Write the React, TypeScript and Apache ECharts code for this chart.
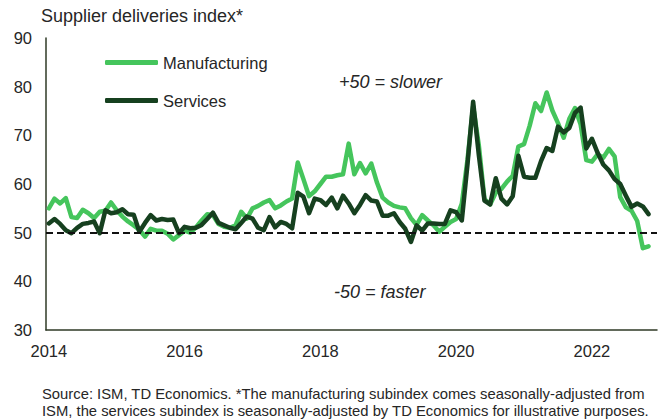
import React, { useEffect, useRef } from "react";
import * as echarts from "echarts";

const startYear = 2014;
const endYear = 2022;
const tickLabels = ["2014", "2016", "2018", "2020", "2022"];
const yTicks = { min: 30, max: 90, step: 10 };

// Monthly, Jan 2014 onward
const manufacturing = [
  55.0, 57.0, 56.0, 57.1, 53.2, 53.0, 54.7, 54.0, 53.0, 54.3, 54.5, 56.2,
  54.6, 53.3, 52.3, 51.5, 50.6, 49.2, 50.8, 50.4, 50.4, 49.8, 48.6, 49.5,
  50.4, 50.0, 51.1, 52.5, 53.8, 53.6, 51.8, 51.2, 51.0, 51.5, 54.3, 52.9,
  55.0, 55.5, 56.2, 56.7, 55.0, 55.6, 56.4, 57.0, 64.4, 61.0, 57.5, 58.5,
  60.0, 61.5, 61.5, 61.8, 62.0, 68.3, 62.0, 64.3, 62.2, 64.2, 60.3, 57.2,
  56.2, 55.5, 55.2, 55.0, 53.0, 51.6, 53.6, 52.5, 51.5, 50.2, 51.2, 52.2,
  52.8, 56.0, 65.0, 76.0, 68.0, 56.9, 55.8, 58.2, 59.0, 60.5, 61.7, 67.7,
  68.2, 72.0, 76.6, 75.0, 78.8, 75.1, 72.5, 69.5, 73.4, 75.6, 72.2, 64.9,
  64.6, 66.1, 65.4, 67.2, 65.7, 57.3, 55.2, 54.5, 52.4, 46.8, 47.2,
];

const services = [
  51.9, 52.8, 51.8, 50.5, 49.9, 51.0, 51.8, 52.0, 52.3, 49.9, 54.6, 54.0,
  54.2, 54.8, 53.8, 53.7, 50.2, 52.0, 53.6, 52.5, 52.8, 52.6, 52.7, 49.9,
  51.2, 50.9, 51.0, 51.6, 52.8, 54.1, 52.0, 51.5, 51.0, 50.7, 52.0, 53.3,
  52.9, 51.0, 50.5, 53.2, 51.1, 52.2, 51.8, 50.9, 58.2, 57.4, 54.0, 57.0,
  56.7, 55.7, 57.2, 55.0, 57.6, 56.0, 54.0, 55.7, 57.7, 56.6, 56.4, 53.5,
  53.5, 54.0, 52.2, 50.8, 48.1, 51.5, 50.4, 51.9, 51.9, 51.8, 51.8, 54.6,
  54.2, 52.5, 64.0, 76.9, 66.0, 56.6, 55.8, 61.2, 57.0, 55.8, 57.5, 65.8,
  61.5, 61.3, 61.3, 64.7, 67.4, 66.8, 71.8, 70.6, 71.5, 74.6, 75.7, 67.3,
  69.3, 66.4, 64.0, 62.8, 61.0, 60.0, 57.6, 55.3, 56.0, 55.4, 53.8,
];

const neutralLevel = 50;
const labelEvery = 24;

const months: string[] = [];
for (let y = startYear; y <= endYear; y++) {
  for (let m = 1; m <= 12; m++) months.push(`${y}-${String(m).padStart(2, "0")}`);
}

const FONT = "Liberation Sans, Arial, sans-serif";
const TEXT = "#262626";
const AXIS = "#2f3a26";
const LIGHT = "#45C55C";
const DARK = "#16401F";

export default function App() {
  const ref = useRef<HTMLDivElement>(null);
  useEffect(() => {
    if (!ref.current) return;
    const chart = echarts.init(ref.current, null, { renderer: "svg" });
    chart.setOption({
      animation: false,
      backgroundColor: "#ffffff",
      textStyle: { fontFamily: FONT },
      title: {
        text: "Supplier deliveries index*",
        left: 41,
        top: 7,
        padding: 0,
        textStyle: { fontSize: 18, fontWeight: "normal", color: TEXT, fontFamily: FONT },
      },
      legend: {
        orient: "vertical",
        left: 105,
        top: 54,
        padding: 0,
        itemWidth: 53,
        itemHeight: 5,
        itemGap: 21,
        icon: "roundRect",
        textStyle: { fontSize: 16.5, color: TEXT, fontFamily: FONT },
        data: ["Manufacturing", "Services"],
      },
      grid: { left: 46, right: 5, top: 38, bottom: 90, containLabel: false, outerBoundsMode: "none" },
      xAxis: {
        type: "category",
        data: months,
        boundaryGap: true,
        axisLine: { show: true, lineStyle: { color: AXIS, width: 1.5 } },
        axisTick: { show: false },
        splitLine: { show: false },
        axisLabel: {
          interval: (idx: number) => idx % labelEvery === 0,
          formatter: (_v: string, idx: number) => tickLabels[Math.round(idx / labelEvery)] ?? "",
          fontSize: 16.5,
          color: TEXT,
          fontFamily: FONT,
          margin: 12,
        },
      },
      yAxis: {
        type: "value",
        min: yTicks.min,
        max: yTicks.max,
        interval: yTicks.step,
        axisLine: { show: true, lineStyle: { color: AXIS, width: 1.5 } },
        axisTick: { show: false },
        splitLine: { show: false },
        axisLabel: { fontSize: 16.5, color: TEXT, fontFamily: FONT, margin: 14 },
      },
      graphic: [
        {
          type: "text",
          left: 339,
          top: 73,
          style: { text: "+50 = slower", font: `italic 18px ${FONT}`, fill: TEXT },
        },
        {
          type: "text",
          left: 334,
          top: 283,
          style: { text: "-50 = faster", font: `italic 18px ${FONT}`, fill: TEXT },
        },
        {
          type: "text",
          left: 42,
          top: 385,
          style: {
            text:
              "Source: ISM, TD Economics. *The manufacturing subindex comes seasonally-adjusted from\nISM, the services subindex is seasonally-adjusted by TD Economics for illustrative purposes.",
            font: `14.8px ${FONT}`,
            lineHeight: 17,
            fill: TEXT,
          },
        },
      ],
      series: [
        {
          name: "Manufacturing",
          type: "line",
          data: manufacturing,
          showSymbol: false,
          symbol: "none",
          color: LIGHT,
          lineStyle: { width: 4.5, color: LIGHT, join: "round", cap: "round" },
          z: 2,
        },
        {
          name: "Services",
          type: "line",
          data: services,
          showSymbol: false,
          symbol: "none",
          color: DARK,
          lineStyle: { width: 4.5, color: DARK, join: "round", cap: "round" },
          z: 3,
          markLine: {
            silent: true,
            symbol: "none",
            label: { show: false },
            lineStyle: { type: [7, 4], color: "#111111", width: 2 },
            data: [{ yAxis: neutralLevel }],
            z: 4,
          },
        },
      ],
    });
    return () => chart.dispose();
  }, []);
  return (
    <div
      ref={ref}
      style={{ position: "fixed", left: 0, top: 0, width: 662, height: 420, background: "#fff" }}
    />
  );
}
